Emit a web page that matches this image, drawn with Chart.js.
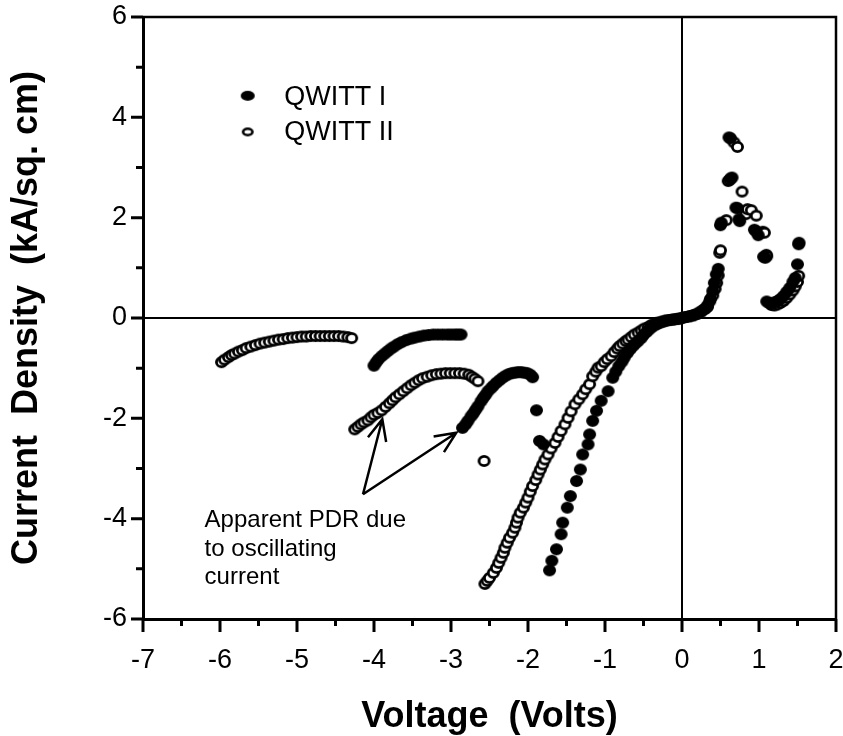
<!DOCTYPE html>
<html><head><meta charset="utf-8">
<script src="https://cdn.jsdelivr.net/npm/chart.js@4.4.0/dist/chart.umd.min.js"></script>
<style>html,body{margin:0;padding:0;background:#fff;}canvas{display:block;}</style>
</head><body>
<canvas id="c" width="843" height="736"></canvas>
<script>
// ---------- data ----------
const seriesNames = ['QWITT I', 'QWITT II'];
const xTicks = [-7, -6, -5, -4, -3, -2, -1, 0, 1, 2];
const yTicks = [-6, -4, -2, 0, 2, 4, 6];
const xTitle = 'Voltage  (Volts)';
const yTitle = 'Current  Density  (kA/sq. cm)';
const noteLines = ['Apparent PDR due', 'to oscillating', 'current'];

// QWITT I (filled markers)
const qwitt1V = [
 -4.00,-3.97,-3.94,-3.90,-3.86,-3.82,-3.78,-3.74,-3.69,-3.64,-3.58,-3.52,-3.47,-3.41,-3.35,-3.29,-3.23,-3.17,-3.11,-3.05,-3.00,-2.95,-2.91,-2.87,
 -2.85,-2.81,-2.78,-2.74,-2.71,-2.68,-2.65,-2.61,-2.58,-2.55,-2.52,-2.48,-2.45,-2.41,-2.37,-2.33,-2.29,-2.25,-2.21,-2.17,-2.13,-2.09,-2.05,-2.01,-1.97,-1.94,
 -1.89,-1.85,-1.80,
 -1.72,-1.69,-1.63,-1.57,-1.55,-1.49,-1.45,-1.37,-1.32,-1.29,-1.22,-1.20,-1.16,-1.11,-1.05,-0.96,-0.90,
 -0.86,-0.82,-0.78,-0.75,-0.71,-0.67,-0.63,-0.60,-0.57,-0.53,-0.50,-0.46,-0.43,-0.40,-0.36,-0.32,-0.28,-0.24,-0.20,-0.16,-0.12,-0.08,-0.04,0.00,
 0.05,0.10,0.15,0.20,0.25,0.30,0.33,0.37,0.40,0.42,0.445,0.47,0.50,0.51,0.63,0.65,0.61,0.63,0.70,0.72,0.75,0.74,0.94,0.96,0.99,1.06,1.08,
 1.10,1.13,1.16,1.20,1.24,1.28,1.32,1.36,1.40,1.44,1.47,1.50,1.515,1.52
];
const qwitt1J = [
 -0.95,-0.88,-0.82,-0.76,-0.71,-0.66,-0.61,-0.57,-0.52,-0.48,-0.44,-0.41,-0.39,-0.37,-0.35,-0.34,-0.33,-0.33,-0.33,-0.33,-0.33,-0.33,-0.33,-0.33,
 -2.19,-2.12,-2.05,-1.96,-1.90,-1.83,-1.76,-1.66,-1.59,-1.53,-1.46,-1.40,-1.35,-1.29,-1.24,-1.19,-1.15,-1.12,-1.10,-1.09,-1.08,-1.08,-1.09,-1.10,-1.13,-1.18,
 -1.84,-2.45,-2.52,
 -5.03,-4.84,-4.61,-4.31,-4.08,-3.78,-3.55,-3.25,-3.02,-2.72,-2.52,-2.32,-2.05,-1.85,-1.65,-1.46,-1.19,
 -1.07,-0.96,-0.87,-0.79,-0.70,-0.62,-0.55,-0.50,-0.46,-0.40,-0.34,-0.28,-0.23,-0.19,-0.15,-0.12,-0.09,-0.07,-0.05,-0.04,-0.03,-0.02,-0.01,0.00,
 0.02,0.04,0.06,0.09,0.13,0.18,0.22,0.38,0.54,0.70,0.87,0.98,1.85,1.90,2.78,2.80,3.60,3.58,2.20,2.19,1.93,1.97,1.76,1.73,1.65,1.22,1.20,
 0.33,0.30,0.29,0.31,0.34,0.38,0.44,0.52,0.60,0.72,0.80,1.07,1.47,1.50
];

// QWITT II (open markers)
const qwitt2V = [
 -5.98,-5.94,-5.89,-5.85,-5.81,-5.76,-5.71,-5.66,-5.60,-5.54,-5.48,-5.42,-5.36,-5.30,-5.24,-5.18,-5.12,-5.06,-5.00,-4.94,-4.88,-4.82,-4.76,-4.70,-4.64,-4.58,-4.52,-4.46,-4.40,-4.34,-4.29,
 -4.25,-4.21,-4.17,-4.13,-4.08,-4.04,-4.00,-3.95,-3.90,-3.85,-3.80,-3.76,-3.72,-3.67,-3.62,-3.57,-3.52,-3.47,-3.42,-3.37,-3.31,-3.25,-3.19,-3.13,-3.07,-3.01,-2.95,-2.89,-2.83,-2.77,-2.73,-2.69,-2.65,
 -2.57,
 -2.56,-2.53,-2.50,-2.45,-2.41,-2.38,-2.35,-2.32,-2.30,-2.27,-2.24,-2.20,-2.17,-2.15,-2.13,-2.10,-2.06,-2.03,-2.00,-1.97,-1.94,-1.90,-1.87,-1.84,-1.81,-1.78,-1.74,-1.70,-1.65,-1.61,
 -1.57,-1.52,-1.48,-1.44,-1.39,-1.34,-1.29,-1.25,-1.20,-1.16,-1.12,-1.09,-1.05,-1.01,-0.97,-0.92,-0.88,-0.84,-0.81,-0.77,-0.73,-0.70,-0.66,-0.62,-0.57,-0.53,-0.49,-0.44,-0.40,-0.35,
 -0.31,-0.26,-0.21,-0.16,-0.11,-0.06,-0.02,0.02,0.06,0.10,0.15,
 0.20,0.25,0.29,0.33,0.36,0.40,0.43,0.45,0.47,0.49,0.50,0.575,0.60,0.62,0.675,0.72,0.78,0.83,0.85,0.90,0.965,1.05,1.07,1.095,1.10,
 1.16,1.20,1.24,1.28,1.32,1.36,1.40,1.44,1.47,1.50,1.515
];
const qwitt2J = [
 -0.88,-0.83,-0.78,-0.74,-0.71,-0.67,-0.64,-0.60,-0.57,-0.54,-0.51,-0.49,-0.47,-0.45,-0.43,-0.42,-0.40,-0.39,-0.38,-0.37,-0.37,-0.36,-0.36,-0.36,-0.36,-0.36,-0.36,-0.36,-0.37,-0.38,-0.40,
 -2.22,-2.17,-2.12,-2.08,-2.04,-1.98,-1.93,-1.89,-1.84,-1.77,-1.70,-1.64,-1.58,-1.52,-1.46,-1.40,-1.34,-1.29,-1.24,-1.20,-1.17,-1.14,-1.12,-1.11,-1.10,-1.10,-1.10,-1.10,-1.11,-1.13,-1.17,-1.21,-1.26,
 -2.85,
 -5.30,-5.24,-5.18,-5.08,-4.98,-4.88,-4.78,-4.68,-4.58,-4.48,-4.38,-4.28,-4.18,-4.08,-3.98,-3.88,-3.78,-3.68,-3.58,-3.46,-3.35,-3.23,-3.12,-3.02,-2.92,-2.82,-2.72,-2.60,-2.49,-2.37,
 -2.25,-2.12,-1.99,-1.86,-1.72,-1.62,-1.52,-1.42,-1.32,-1.16,-1.07,-0.99,-0.96,-0.88,-0.82,-0.76,-0.68,-0.61,-0.56,-0.51,-0.46,-0.43,-0.38,-0.33,-0.29,-0.25,-0.21,-0.18,-0.14,-0.11,
 -0.09,-0.07,-0.05,-0.04,-0.03,-0.02,-0.01,0.01,0.02,0.03,0.05,
 0.08,0.13,0.18,0.25,0.33,0.45,0.58,0.70,0.85,1.30,1.35,1.95,2.73,2.75,3.50,3.41,2.52,2.07,2.17,2.15,2.04,1.72,1.70,1.26,1.23,
 0.26,0.25,0.27,0.30,0.34,0.40,0.47,0.55,0.63,0.72,0.84
];

// ---------- drawing helpers ----------
const FONT = '"Liberation Sans", Arial, Helvetica, sans-serif';
function makeMarker(w, h, filled, lw) {
  const c = document.createElement('canvas');
  c.width = w + 2; c.height = h + 2;
  const g = c.getContext('2d');
  g.beginPath();
  if (filled) {
    g.ellipse(c.width / 2, c.height / 2, w / 2, h / 2, 0, 0, Math.PI * 2);
    g.fillStyle = '#000'; g.fill();
  } else {
    g.ellipse(c.width / 2, c.height / 2, w / 2 - lw / 2, h / 2 - lw / 2, 0, 0, Math.PI * 2);
    g.fillStyle = '#fff'; g.fill();
    g.lineWidth = lw; g.strokeStyle = '#000'; g.stroke();
  }
  return c;
}
const filledMk = makeMarker(13, 12, true);
const openMk = makeMarker(13, 12, false, 2.8);
const filledLeg = makeMarker(14, 10, true);
const openLeg = makeMarker(12, 9, false, 2.6);

const pts = (xs, ys) => xs.map((v, i) => ({ x: v, y: ys[i] }));

const decor = {
  id: 'decor',
  beforeDatasetsDraw(chart) {
    const { ctx, chartArea: a, scales: { x, y } } = chart;
    ctx.save();
    ctx.strokeStyle = '#000';
    ctx.lineWidth = 2;
    const x0 = x.getPixelForValue(0), y0 = y.getPixelForValue(0);
    ctx.beginPath();
    ctx.moveTo(x0, a.top); ctx.lineTo(x0, a.bottom);
    ctx.moveTo(a.left, y0); ctx.lineTo(a.right, y0);
    ctx.stroke();
    ctx.restore();
  },
  afterDraw(chart) {
    const { ctx, chartArea: a, scales: { x, y } } = chart;
    ctx.save();
    ctx.strokeStyle = '#000';
    ctx.lineWidth = 2.5;
    ctx.beginPath();
    ctx.moveTo(a.left, a.top); ctx.lineTo(a.right, a.top); ctx.lineTo(a.right, a.bottom);
    ctx.stroke();
    ctx.lineWidth = 3;
    ctx.beginPath();
    for (let v = xTicks[0]; v <= xTicks[xTicks.length - 1] + 1e-9; v += 0.5) {
      const px = x.getPixelForValue(v);
      const major = Math.abs(v - Math.round(v)) < 1e-6;
      ctx.moveTo(px, a.bottom); ctx.lineTo(px, a.bottom + (major ? 13 : 7));
    }
    for (let v = yTicks[0]; v <= yTicks[yTicks.length - 1] + 1e-9; v += 1) {
      const py = y.getPixelForValue(v);
      const major = Math.abs(v % 2) < 1e-6;
      ctx.moveTo(a.left, py); ctx.lineTo(a.left - (major ? 12 : 7), py);
    }
    ctx.stroke();
    // legend
    const lx = x.getPixelForValue(-5.64), tx = x.getPixelForValue(-5.165);
    const ly1 = y.getPixelForValue(4.43), ly2 = y.getPixelForValue(3.71);
    ctx.drawImage(filledLeg, lx - filledLeg.width / 2, ly1 - filledLeg.height / 2);
    ctx.drawImage(openLeg, lx - openLeg.width / 2, ly2 - openLeg.height / 2);
    ctx.fillStyle = '#000';
    ctx.font = '27px ' + FONT;
    ctx.textBaseline = 'middle';
    ctx.textAlign = 'left';
    ctx.fillText(seriesNames[0], tx, ly1 + 2);
    ctx.fillText(seriesNames[1], tx, ly2 + 1);
    // annotation
    ctx.font = '24px ' + FONT;
    ctx.textBaseline = 'alphabetic';
    const nx = x.getPixelForValue(-6.2);
    const nys = [-4.166, -4.744, -5.312];
    noteLines.forEach((t, i) => ctx.fillText(t, nx, y.getPixelForValue(nys[i])));
    // arrows
    const sx = x.getPixelForValue(-4.143), sy = y.getPixelForValue(-3.514);
    const tips = [[-3.892, -2.019], [-2.931, -2.286]];
    ctx.lineWidth = 2.5;
    tips.forEach(([vx, vy]) => {
      const ex = x.getPixelForValue(vx), ey = y.getPixelForValue(vy);
      const ang = Math.atan2(ey - sy, ex - sx);
      const hl = 23, ha = 0.42;
      ctx.beginPath();
      ctx.moveTo(sx, sy); ctx.lineTo(ex, ey);
      ctx.moveTo(ex - hl * Math.cos(ang - ha), ey - hl * Math.sin(ang - ha));
      ctx.lineTo(ex, ey);
      ctx.lineTo(ex - hl * Math.cos(ang + ha), ey - hl * Math.sin(ang + ha));
      ctx.stroke();
    });
    ctx.restore();
  }
};

Chart.defaults.font.family = FONT;
Chart.defaults.color = '#000';

new Chart(document.getElementById('c'), {
  type: 'scatter',
  data: {
    datasets: [
      { label: seriesNames[0], data: pts(qwitt1V, qwitt1J), pointStyle: filledMk, pointRadius: 6, showLine: false },
      { label: seriesNames[1], data: pts(qwitt2V, qwitt2J), pointStyle: openMk, pointRadius: 6, showLine: false }
    ]
  },
  options: {
    responsive: false,
    animation: false,
    devicePixelRatio: 1,
    layout: { padding: { top: 17, right: 7, left: 0, bottom: 0 } },
    plugins: { legend: { display: false }, tooltip: { enabled: false } },
    scales: {
      x: {
        type: 'linear', position: 'bottom', min: xTicks[0], max: xTicks[xTicks.length - 1],
        afterFit(s) { s.height = 117; s.paddingLeft = 0; s.paddingRight = 0; },
        afterBuildTicks(s) { s.ticks = xTicks.map(v => ({ value: v })); },
        ticks: { font: { size: 27 }, color: '#000', padding: 25, maxRotation: 0, autoSkip: false,
                 callback: v => (v < 0 ? '-' + Math.abs(v) : String(v)) },
        grid: { display: false, drawTicks: false, tickLength: 0 },
        border: { display: true, color: '#000', width: 3 },
        title: { display: true, text: xTitle, color: '#000',
                 font: { size: 36, weight: 'bold', lineHeight: 1 }, padding: { top: 0, bottom: 1 } }
      },
      y: {
        type: 'linear', position: 'left', min: yTicks[0], max: yTicks[yTicks.length - 1],
        afterFit(s) { s.width = 143; s.paddingTop = 0; s.paddingBottom = 0; },
        afterBuildTicks(s) { s.ticks = yTicks.map(v => ({ value: v })); },
        ticks: { font: { size: 27 }, color: '#000', padding: 16, autoSkip: false,
                 callback: v => (v < 0 ? '-' + Math.abs(v) : String(v)) },
        grid: { display: false, drawTicks: false, tickLength: 0 },
        border: { display: true, color: '#000', width: 3 },
        title: { display: true, text: yTitle, color: '#000',
                 font: { size: 36, weight: 'bold', lineHeight: 1 }, padding: { top: 9, bottom: 0 } }
      }
    }
  },
  plugins: [decor]
});
</script>
</body></html>
